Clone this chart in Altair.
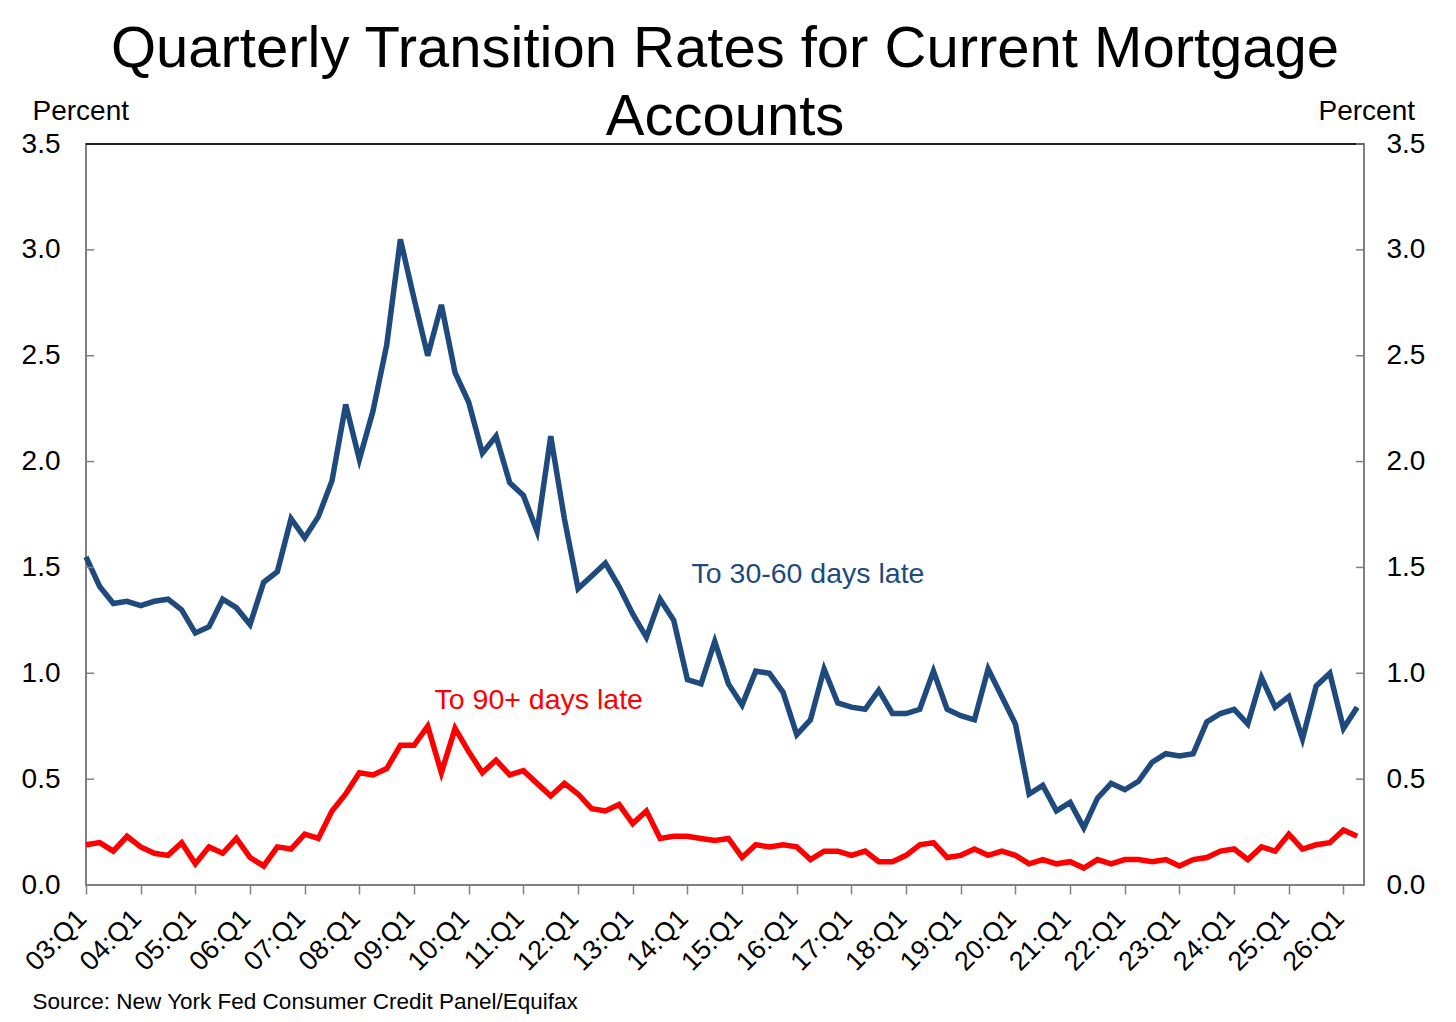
import json
import altair as alt
import pandas as pd

# ---------------- data ----------------
quarters = [f"{y:02d}:Q{q}" for y in range(3, 27) for q in range(1, 5)][:94]

to_30_60 = [
    1.55, 1.41, 1.33, 1.34, 1.32, 1.34, 1.35, 1.30, 1.19, 1.22,
    1.35, 1.31, 1.23, 1.43, 1.48, 1.73, 1.64, 1.74, 1.91, 2.27,
    2.01, 2.24, 2.55, 3.05, 2.77, 2.50, 2.74, 2.42, 2.28, 2.04,
    2.12, 1.90, 1.84, 1.67, 2.12, 1.73, 1.40, 1.46, 1.52, 1.41,
    1.28, 1.17, 1.35, 1.25, 0.97, 0.95, 1.15, 0.95, 0.85, 1.01,
    1.00, 0.91, 0.71, 0.78, 1.02, 0.86, 0.84, 0.83, 0.92, 0.81,
    0.81, 0.83, 1.01, 0.83, 0.80, 0.78, 1.02, 0.89, 0.76, 0.43,
    0.47, 0.35, 0.39, 0.27, 0.41, 0.48, 0.45, 0.49, 0.58, 0.62,
    0.61, 0.62, 0.77, 0.81, 0.83, 0.76, 0.98, 0.84, 0.89, 0.69,
    0.94, 1.00, 0.74, 0.84,
]

to_90_plus = [
    0.19, 0.20, 0.16, 0.23, 0.18, 0.15, 0.14, 0.20, 0.10, 0.18,
    0.15, 0.22, 0.13, 0.09, 0.18, 0.17, 0.24, 0.22, 0.35, 0.43,
    0.53, 0.52, 0.55, 0.66, 0.66, 0.75, 0.53, 0.74, 0.63, 0.53,
    0.59, 0.52, 0.54, 0.48, 0.42, 0.48, 0.43, 0.36, 0.35, 0.38,
    0.29, 0.35, 0.22, 0.23, 0.23, 0.22, 0.21, 0.22, 0.13, 0.19,
    0.18, 0.19, 0.18, 0.12, 0.16, 0.16, 0.14, 0.16, 0.11, 0.11,
    0.14, 0.19, 0.20, 0.13, 0.14, 0.17, 0.14, 0.16, 0.14, 0.10,
    0.12, 0.10, 0.11, 0.08, 0.12, 0.10, 0.12, 0.12, 0.11, 0.12,
    0.09, 0.12, 0.13, 0.16, 0.17, 0.12, 0.18, 0.16, 0.24, 0.17,
    0.19, 0.20, 0.26, 0.23,
]

y_ticks = [0.0, 0.5, 1.0, 1.5, 2.0, 2.5, 3.0, 3.5]
series_names = ["To 30-60 days late", "To 90+ days late"]
title_lines = ["Quarterly Transition Rates for Current Mortgage", "Accounts"]
source_text = "Source: New York Fed Consumer Credit Panel/Equifax"

BLUE = "#1F4A7E"
RED = "#FF0000"
GRAY = "#808080"
FONT = "Liberation Sans"

W, H = 1278, 741

rows = []
for i, q in enumerate(quarters):
    rows.append({"idx": i, "quarter": q, "series": series_names[0], "value": to_30_60[i]})
    rows.append({"idx": i, "quarter": q, "series": series_names[1], "value": to_90_plus[i]})
df = pd.DataFrame(rows)
ticks_df = pd.DataFrame({"v": y_ticks})

tick_labels = [q if q.endswith("Q1") else "" for q in quarters]
label_expr = json.dumps(tick_labels) + "[datum.value]"

y_scale = alt.Scale(domain=[0, 3.5], nice=False, zero=True)

x_enc = alt.X(
    "idx:Q",
    scale=alt.Scale(domain=[0, 93.5], nice=False, zero=False),
    axis=alt.Axis(
        values=list(range(len(quarters))),
        labelExpr=label_expr,
        labelAngle=-45,
        labelAlign="right",
        labelBaseline="middle",
        labelFontSize=27,
        labelPadding=20,
        labelOffset=-4,
        labelOverlap=False,
        labelFlush=False,
        labelBound=False,
        labelColor="black",
        tickSize=9,
        tickColor=GRAY,
        tickWidth=1.5,
        domain=False,
        grid=False,
        title=source_text,
        titleX=-54,
        titleY=123,
        titleAngle=0,
        titleAlign="left",
        titleBaseline="alphabetic",
        titleFontSize=22.5,
        titleFontWeight="normal",
        titleColor="black",
    ),
)

lines = alt.Chart(df).mark_line(strokeWidth=5.5, strokeJoin="miter").encode(
    x=x_enc,
    y=alt.Y(
        "value:Q",
        scale=y_scale,
        axis=alt.Axis(
            orient="left",
            values=y_ticks,
            format=".1f",
            ticks=False,
            domain=False,
            grid=False,
            labelFontSize=28,
            labelPadding=26,
            labelColor="black",
            title="Percent",
            titleAngle=0,
            titleAlign="left",
            titleBaseline="alphabetic",
            titleX=-54,
            titleY=-25,
            titleFontSize=28,
            titleFontWeight="normal",
            titleColor="black",
        ),
    ),
    color=alt.Color("series:N", scale=alt.Scale(domain=series_names, range=[BLUE, RED]), legend=None),
    detail="series:N",
)

txt_blue = alt.Chart().mark_text(
    align="left", baseline="middle", fontSize=28.5, color=BLUE, text=series_names[0]
).encode(x=alt.datum(44.3), y=alt.datum(1.47))

txt_red = alt.Chart().mark_text(
    align="left", baseline="middle", fontSize=28.5, color=RED, text=series_names[1]
).encode(x=alt.datum(25.5), y=alt.datum(0.875))

top_rule = alt.Chart().mark_rule(color="black", strokeWidth=1.5).encode(y=alt.datum(3.5))

left_ticks = alt.Chart(ticks_df).mark_rule(color=GRAY, strokeWidth=1.5).encode(
    y=alt.Y("v:Q", scale=y_scale), x=alt.value(0), x2=alt.value(8)
)

left_layer = alt.layer(lines, txt_blue, txt_red, left_ticks, top_rule)

right_ticks = alt.Chart(ticks_df).mark_rule(color=GRAY, strokeWidth=1.5).encode(
    y=alt.Y(
        "v:Q",
        scale=y_scale,
        axis=alt.Axis(
            orient="right",
            values=y_ticks,
            format=".1f",
            ticks=False,
            domain=False,
            grid=False,
            labelFontSize=28,
            labelPadding=22,
            labelColor="black",
            title="Percent",
            titleAngle=0,
            titleAlign="left",
            titleBaseline="alphabetic",
            titleX=-46,
            titleY=-25,
            titleFontSize=28,
            titleFontWeight="normal",
            titleColor="black",
        ),
    ),
    x=alt.value(W - 8),
    x2=alt.value(W),
)

chart = (
    alt.layer(left_layer, right_ticks)
    .resolve_scale(y="independent")
    .resolve_axis(y="independent")
    .properties(
        width=W,
        height=H,
        autosize=alt.AutoSizeParams(type="none"),
        padding={"left": 78, "top": 136, "right": 84, "bottom": 129},
        title=alt.TitleParams(
            text=title_lines,
            fontSize=58,
            fontWeight="normal",
            font=FONT,
            color="black",
            anchor="middle",
            frame="group",
            baseline="alphabetic",
            lineHeight=68,
            offset=-96,
        ),
    )
    .configure(font=FONT, background="white")
    .configure_view(stroke=GRAY, strokeWidth=2)
)

chart.save("out.html", embed_options={"renderer": "svg", "actions": False})
